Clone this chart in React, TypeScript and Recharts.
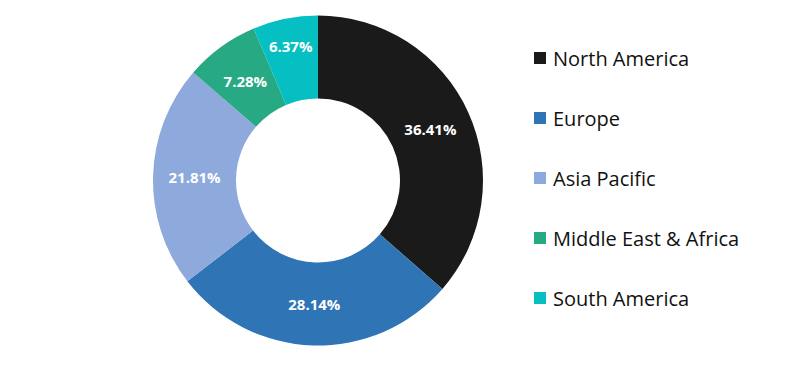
import React from 'react';
import { PieChart, Pie, Cell, Legend } from 'recharts';

const regions = ['North America', 'Europe', 'Asia Pacific', 'Middle East & Africa', 'South America'];
const shares = [36.41, 28.14, 21.81, 7.28, 6.37];
const colors = ['#1a1a1a', '#2f74b5', '#8eaadc', '#27a983', '#05bfc3'];

const data = regions.map((name, i) => ({ name, value: shares[i] }));

const RADIAN = Math.PI / 180;

const renderLabel = (props: any) => {
  const { cx, cy, midAngle, innerRadius, outerRadius, index, percent } = props;
  // narrow slices push their label outward to fit
  const r = (innerRadius + outerRadius) / 2 + (percent < 0.07 ? 14 : 0);
  const x = cx + r * Math.cos(-midAngle * RADIAN);
  const y = cy + r * Math.sin(-midAngle * RADIAN);
  return (
    <text
      x={x}
      y={y}
      fill="#fff"
      textAnchor="middle"
      dominantBaseline="central"
      fontSize={15}
      fontWeight="bold"
      fontFamily="'Open Sans', sans-serif"
    >
      {shares[index].toFixed(2)}%
    </text>
  );
};

const renderLegend = () => (
  <div style={{ fontFamily: "'Open Sans', sans-serif", fontSize: 20, color: '#111' }}>
    {regions.map((name, i) => (
      <div key={name} style={{ display: 'flex', alignItems: 'center', height: 60 }}>
        <span
          style={{ display: 'inline-block', width: 12, height: 12, background: colors[i], marginRight: 7 }}
        />
        <span>{name}</span>
      </div>
    ))}
  </div>
);

const App = () => {
  return (
    <div style={{ width: 780, height: 349 }}>
      <PieChart width={780} height={349}>
        <Pie
          data={data}
          dataKey="value"
          nameKey="name"
          cx={305}
          cy={167.5}
          innerRadius={82}
          outerRadius={165}
          startAngle={90}
          endAngle={-270}
          stroke="none"
          label={renderLabel}
          labelLine={false}
          isAnimationActive={false}
        >
          {data.map((d, i) => (
            <Cell key={d.name} fill={colors[i]} />
          ))}
        </Pie>
        <Legend
          content={renderLegend}
          wrapperStyle={{ position: 'absolute', left: 526, top: 20, width: 250 }}
        />
      </PieChart>
    </div>
  );
};

export default App;
